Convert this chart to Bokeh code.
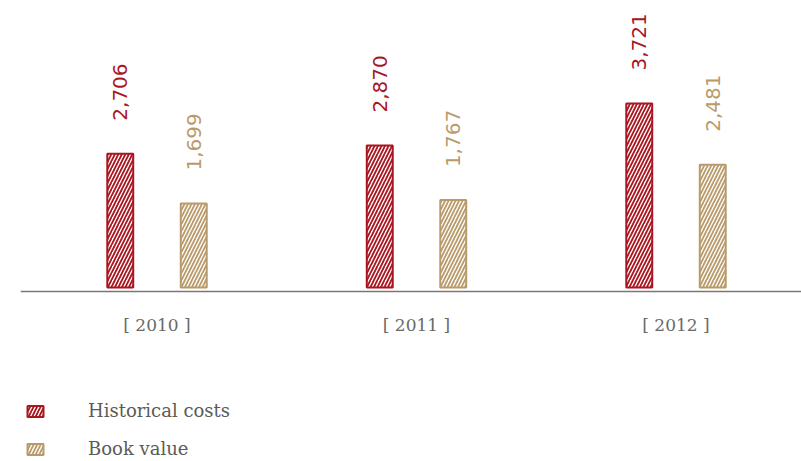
import math
from bokeh.plotting import figure
from bokeh.models import ColumnDataSource, Range1d, Legend, LegendItem, Span
from bokeh.transform import dodge
from bokeh.core.properties import value
from bokeh.embed import file_html
from bokeh.resources import INLINE

years = [2010, 2011, 2012]
year_labels = ["[ 2010 ]", "[ 2011 ]", "[ 2012 ]"]
historical = [2706, 2870, 3721]
book = [1699, 1767, 2481]
historical_labels = ["2,706", "2,870", "3,721"]
book_labels = ["1,699", "1,767", "2,481"]
series_names = ["Historical costs", "Book value"]

RED = "#a9161f"
TAN = "#b99b6b"
GREY = "#5c5b55"

AXIS_Y = -81  # data value where the baseline line is drawn

src = ColumnDataSource(dict(year=years, hist=historical, book=book,
                            hist_label=historical_labels, book_label=book_labels,
                            year_label=year_labels, axis_y=[AXIS_Y] * len(years)))

p = figure(width=801, height=461,
           x_range=Range1d(2009.474, 2012.4836), y_range=Range1d(-3519, 5804),
           min_border_left=20, min_border_right=0, min_border_top=0, min_border_bottom=0,
           x_axis_location=None, y_axis_location=None,
           output_backend="svg", toolbar_location=None)
p.outline_line_color = None
p.xgrid.visible = False
p.ygrid.visible = False
p.background_fill_color = "white"

off = 0.1416
r_hist = p.vbar(x=dodge("year", -off), top="hist", bottom=0, width=0.1, source=src,
                fill_color="white", line_color=RED, line_width=2,
                hatch_pattern="/", hatch_color=RED, hatch_weight=1.8, hatch_scale=7)
r_book = p.vbar(x=dodge("year", off), top="book", bottom=0, width=0.1, source=src,
                fill_color="white", line_color=TAN, line_width=2,
                hatch_pattern="/", hatch_color=TAN, hatch_weight=1.8, hatch_scale=7)

# baseline
p.add_layout(Span(location=AXIS_Y, dimension="width", line_color="#777777", line_width=1.4))

# value labels
p.text(x=dodge("year", -off), y="hist", text="hist_label", source=src,
       angle=math.pi / 2, text_align="left", text_baseline="middle", y_offset=-33,
       text_color=RED, text_font=value("DejaVu Sans"), text_font_size="20px")
p.text(x=dodge("year", off), y="book", text="book_label", source=src,
       angle=math.pi / 2, text_align="left", text_baseline="middle", y_offset=-33,
       text_color=TAN, text_font=value("DejaVu Sans"), text_font_size="20px")

# category labels
p.text(x="year", y="axis_y", text="year_label", source=src,
       text_align="center", text_baseline="middle", y_offset=34,
       text_color="#6a6a66", text_font=value("DejaVu Serif"), text_font_size="17px")

legend = Legend(items=[LegendItem(label=series_names[0], renderers=[r_hist]),
                       LegendItem(label=series_names[1], renderers=[r_book])],
                location=(5, 2), orientation="vertical",
                glyph_width=20, glyph_height=14, label_height=14, spacing=17,
                label_standoff=43, padding=0, margin=0,
                border_line_color=None, background_fill_alpha=0,
                label_text_font="DejaVu Serif", label_text_font_size="18px",
                label_text_color=GREY)
p.add_layout(legend, "center")

open("out.html", "w").write(file_html(p, INLINE))
